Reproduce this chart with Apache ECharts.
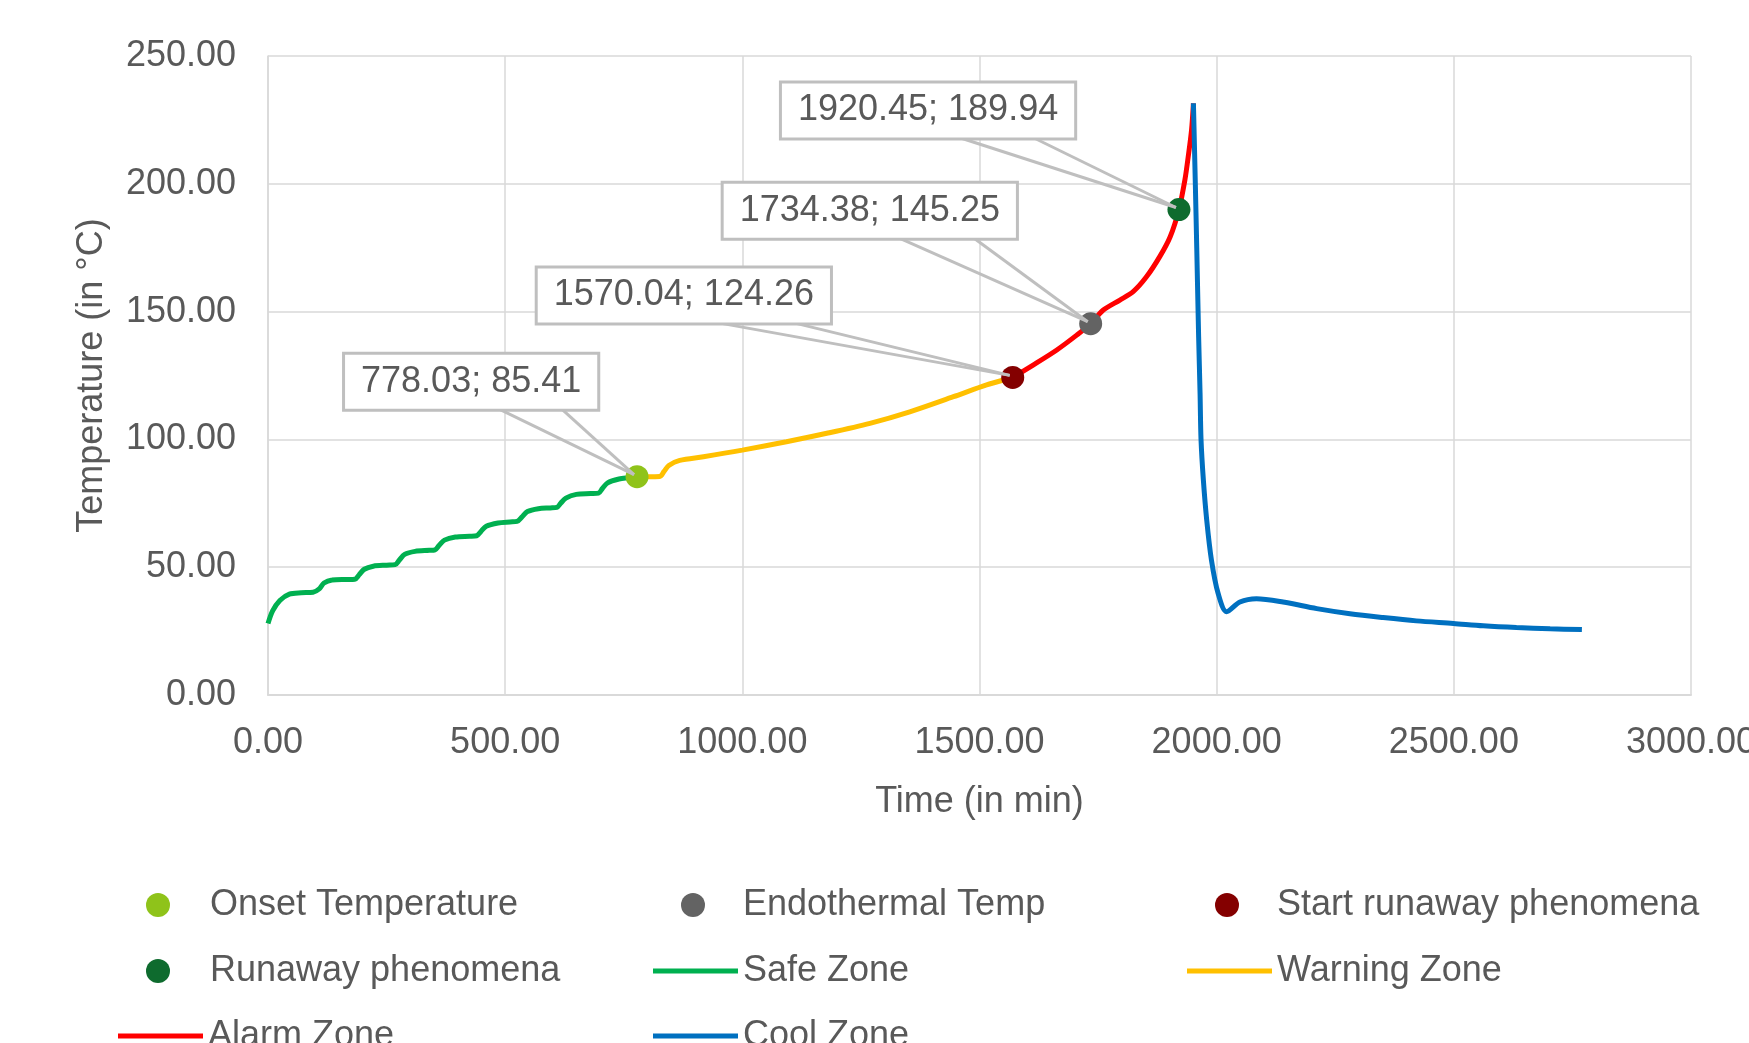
<!DOCTYPE html>
<html>
<head>
<meta charset="utf-8">
<title>Temperature zones</title>
<script src="https://cdn.jsdelivr.net/npm/echarts@6/dist/echarts.min.js"></script>
<style>
  html, body { margin: 0; padding: 0; background: #fff; }
  #chart { width: 1749px; height: 1043px; }
</style>
</head>
<body>
<div id="chart"></div>
<script>
// ---- data (time in min, temperature in °C) ----
var safeZone = [
  [0, 28.0], [10, 33.0], [25, 37.0], [45, 39.5], [70, 40.0], [95, 40.2],
  [108, 41.5], [118, 43.8], [135, 45.0], [165, 45.2], [183, 45.3],
  [192, 47.0], [203, 49.2], [222, 50.4], [250, 50.8], [268, 51.0],
  [277, 52.8], [288, 55.0], [310, 56.2], [340, 56.6], [352, 56.8],
  [361, 58.6], [372, 60.6], [395, 61.8], [425, 62.1], [440, 62.3],
  [449, 64.0], [460, 66.0], [485, 67.3], [510, 67.7], [525, 67.9],
  [535, 69.6], [547, 71.8], [570, 72.9], [595, 73.2], [609, 73.4],
  [617, 75.0], [628, 77.0], [650, 78.5], [680, 78.8], [697, 79.0],
  [705, 80.8], [716, 83.0], [740, 84.5], [760, 85.0], [778.03, 85.41]
];
var warningZone = [
  [778.03, 85.41], [800, 85.4], [826, 85.5], [835, 87.5], [845, 89.8],
  [868, 91.8], [918, 93.2], [1000, 95.8], [1093, 99.1], [1178, 102.4],
  [1269, 106.3], [1353, 110.8], [1445, 116.7], [1515, 121.3], [1570.04, 124.26]
];
var alarmZone = [
  [1570.04, 124.26], [1613, 129.1], [1663, 135.0], [1705, 140.8],
  [1734.38, 145.25], [1761, 150.6], [1796, 154.5], [1824, 157.8],
  [1852, 163.6], [1880, 171.5], [1902, 179.3], [1920.45, 189.94],
  [1933, 201.5], [1940, 210.6], [1947, 221.0], [1951, 231.5]
];
var coolZone = [
  [1951, 231.5], [1955, 200], [1958, 175], [1962, 140], [1965, 118],
  [1967, 100], [1972, 84], [1979, 68.5], [1989, 52.8], [2003, 39.8],
  [2021, 32.6], [2049, 36.4], [2084, 37.7], [2140, 36.4], [2211, 33.8],
  [2281, 31.8], [2351, 30.3], [2421, 29.0], [2499, 28.0], [2562, 27.1],
  [2632, 26.4], [2703, 25.9], [2770, 25.6]
];
var onsetPoint = [778.03, 85.41];
var endothermalPoint = [1734.38, 145.25];
var startRunawayPoint = [1570.04, 124.26];
var runawayPoint = [1920.45, 189.94];

var xTicks = { min: 0, max: 3000, interval: 500 };
var yTicks = { min: 0, max: 250, interval: 50 };

// callout box layout, pixels relative to the marker
var calloutLayout = [
  { left: -292, top: -122, base: [-143, -78] },   // onset
  { left: -367, top: -140, base: [-197, -120] },  // endothermal
  { left: -475, top: -109, base: [-308, -229] },  // start runaway
  { left: -397, top: -126, base: [-226, -150] }   // runaway
];
var calloutPoints = [onsetPoint, endothermalPoint, startRunawayPoint, runawayPoint];

var FONT = '"Liberation Sans", Arial, sans-serif';
var TXT = '#595959';
var GRID = '#d9d9d9';

var chart = echarts.init(document.getElementById('chart'), null, { renderer: 'canvas' });

function zone(name, data, color) {
  return {
    name: name, type: 'line', data: data, smooth: 0.3,
    symbol: 'none', showSymbol: false, z: 2,
    lineStyle: { color: color, width: 5 },
    itemStyle: { color: color }
  };
}
function marker(name, pt, color) {
  return {
    name: name, type: 'scatter', data: [pt], symbol: 'circle', symbolSize: 23, z: 3,
    itemStyle: { color: color, opacity: 1 }
  };
}
// one legend per entry so the grid of the original can be reproduced
function legendAt(name, left, centerY, isLine, textPad) {
  return {
    data: [name], left: left, top: centerY - 18, padding: 0,
    selectedMode: false,
    icon: isLine ? 'rect' : 'circle',
    itemWidth: isLine ? 85 : 24, itemHeight: isLine ? 5 : 24,
    textStyle: {
      fontFamily: FONT, fontSize: 36, color: TXT, lineHeight: 36,
      padding: [0, 0, 0, textPad || 0]
    }
  };
}

var option = {
  animation: false,
  backgroundColor: '#fff',
  grid: { left: 268, right: 58, top: 56, bottom: 348, outerBoundsMode: 'none' },
  xAxis: {
    type: 'value', min: xTicks.min, max: xTicks.max, interval: xTicks.interval,
    name: 'Time (in min)', nameLocation: 'middle', nameGap: 89,
    nameTextStyle: { fontFamily: FONT, fontSize: 36, color: TXT },
    axisLine: { show: true, lineStyle: { color: GRID, width: 2 } },
    axisTick: { show: false },
    axisLabel: {
      margin: 30, fontFamily: FONT, fontSize: 36, color: TXT,
      formatter: function (v) { return v.toFixed(2); }
    },
    splitLine: { show: true, lineStyle: { color: GRID, width: 1.5 } }
  },
  yAxis: {
    type: 'value', min: yTicks.min, max: yTicks.max, interval: yTicks.interval,
    name: 'Temperature (in °C)', nameLocation: 'middle', nameGap: 158,
    nameTextStyle: { fontFamily: FONT, fontSize: 36, color: TXT },
    axisLine: { show: true, lineStyle: { color: GRID, width: 1.5 } },
    axisTick: { show: false },
    axisLabel: {
      margin: 32, fontFamily: FONT, fontSize: 36, color: TXT,
      formatter: function (v) { return v.toFixed(2); }
    },
    splitLine: { show: true, lineStyle: { color: GRID, width: 1.5 } }
  },
  legend: [
    legendAt('Onset Temperature', 146, 905, false, 35),
    legendAt('Endothermal Temp', 681, 905, false, 33),
    legendAt('Start runaway phenomena', 1215, 905, false, 33),
    legendAt('Runaway phenomena', 146, 971, false, 35),
    legendAt('Safe Zone', 653, 971, true),
    legendAt('Warning Zone', 1187, 971, true),
    legendAt('Alarm Zone', 118, 1036, true),
    legendAt('Cool Zone', 653, 1036, true)
  ],
  series: [
    zone('Safe Zone', safeZone, '#00b050'),
    zone('Warning Zone', warningZone, '#ffc000'),
    zone('Alarm Zone', alarmZone, '#ff0000'),
    zone('Cool Zone', coolZone, '#0070c0'),
    marker('Onset Temperature', onsetPoint, '#8fc31a'),
    marker('Endothermal Temp', endothermalPoint, '#636363'),
    marker('Start runaway phenomena', startRunawayPoint, '#840000'),
    marker('Runaway phenomena', runawayPoint, '#0e6b2e'),
    {
      name: 'callouts', type: 'custom', coordinateSystem: 'cartesian2d', z: 10,
      data: calloutPoints, silent: true,
      renderItem: function (params, api) {
        var x = api.value(0), y = api.value(1);
        var p = api.coord([x, y]);
        var c = calloutLayout[params.dataIndex];
        var top = p[1] + c.top;
        var bottom = top + 52;
        var lineStyle = { stroke: '#bfbfbf', lineWidth: 3 };
        return {
          type: 'group',
          children: [
            { type: 'line', shape: { x1: p[0] + c.base[0], y1: bottom, x2: p[0] - 3, y2: p[1] - 2 }, style: lineStyle },
            { type: 'line', shape: { x1: p[0] + c.base[1], y1: bottom, x2: p[0] - 3, y2: p[1] - 2 }, style: lineStyle },
            {
              type: 'text', x: p[0] + c.left, y: top,
              style: {
                text: x.toFixed(2) + '; ' + y.toFixed(2),
                font: '36px ' + FONT, fill: TXT, lineHeight: 36,
                align: 'left', verticalAlign: 'top',
                backgroundColor: '#fff', borderColor: '#bfbfbf', borderWidth: 3,
                padding: [9, 16]
              }
            }
          ]
        };
      }
    }
  ]
};
chart.setOption(option);
</script>
</body>
</html>
